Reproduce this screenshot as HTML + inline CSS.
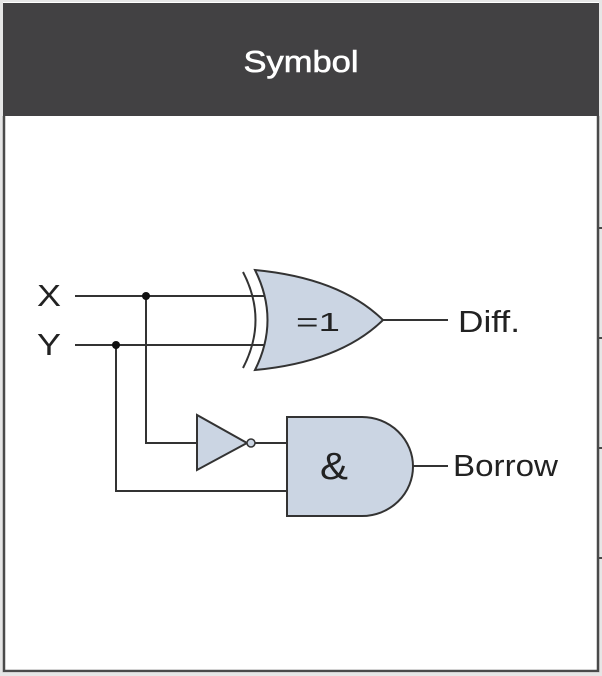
<!DOCTYPE html>
<html><head><style>
html,body{margin:0;padding:0;background:#e6e6e6;width:602px;height:676px;overflow:hidden}
</style></head><body>
<svg width="602" height="676" viewBox="0 0 602 676" xmlns="http://www.w3.org/2000/svg" style="position:absolute;left:0;top:0">
<rect x="0" y="0" width="602" height="676" fill="#e6e6e6"/>
<rect x="3" y="2" width="596" height="671" fill="#fff"/>
<rect x="3" y="3" width="596" height="113" fill="#424143"/>
<text x="301" y="72" fill="#fff" font-family="Liberation Sans, sans-serif" font-size="31" text-anchor="middle" textLength="115" lengthAdjust="spacingAndGlyphs" stroke="#fff" stroke-width="0.6">Symbol</text>
<path d="M4 116 V671 H598 V116" fill="none" stroke="#4a4a4a" stroke-width="2.5"/>
<g stroke="#4a4a4a" stroke-width="2"><line x1="597" y1="228" x2="602" y2="228"/><line x1="597" y1="338" x2="602" y2="338"/><line x1="597" y1="448" x2="602" y2="448"/><line x1="597" y1="558" x2="602" y2="558"/></g>
<g stroke="#333" stroke-width="2" fill="none">
<line x1="75" y1="296" x2="264" y2="296"/>
<line x1="75" y1="345" x2="264" y2="345"/>
<polyline points="146,296 146,443 197,443"/>
<polyline points="116,345 116,491 287,491"/>
<line x1="255" y1="443" x2="287" y2="443"/>
<line x1="383" y1="320" x2="448" y2="320"/>
<line x1="413" y1="466" x2="448" y2="466"/>
<path d="M243 272 Q268 320 243 368"/>
</g>
<path d="M255 270 Q280 320 255 370 Q340 362 383 320 Q340 278 255 270 Z" fill="#cbd5e3" stroke="#333" stroke-width="2"/>
<polygon points="197,415 197,470 247,443" fill="#cbd5e3" stroke="#333" stroke-width="2"/>
<circle cx="251" cy="443" r="4" fill="#cbd5e3" stroke="#333" stroke-width="1.5"/>
<path d="M287 417 H362 A51 49.5 0 0 1 362 516 H287 Z" fill="#cbd5e3" stroke="#333" stroke-width="2"/>
<circle cx="146" cy="296" r="4" fill="#111"/>
<circle cx="116" cy="345" r="4" fill="#111"/>
<g font-family="Liberation Sans, sans-serif" font-size="31" fill="#222">
<text x="37" y="306" textLength="24" lengthAdjust="spacingAndGlyphs">X</text><text x="37" y="355" textLength="24" lengthAdjust="spacingAndGlyphs">Y</text>
<text x="458" y="332" textLength="62" lengthAdjust="spacingAndGlyphs">Diff.</text><text x="453" y="476" textLength="105" lengthAdjust="spacingAndGlyphs">Borrow</text>
<text x="296" y="331" font-size="26" textLength="44" lengthAdjust="spacingAndGlyphs">=1</text>
<text x="320" y="479" font-size="38" textLength="28" lengthAdjust="spacingAndGlyphs">&amp;</text>
</g>
</svg>
</body></html>
